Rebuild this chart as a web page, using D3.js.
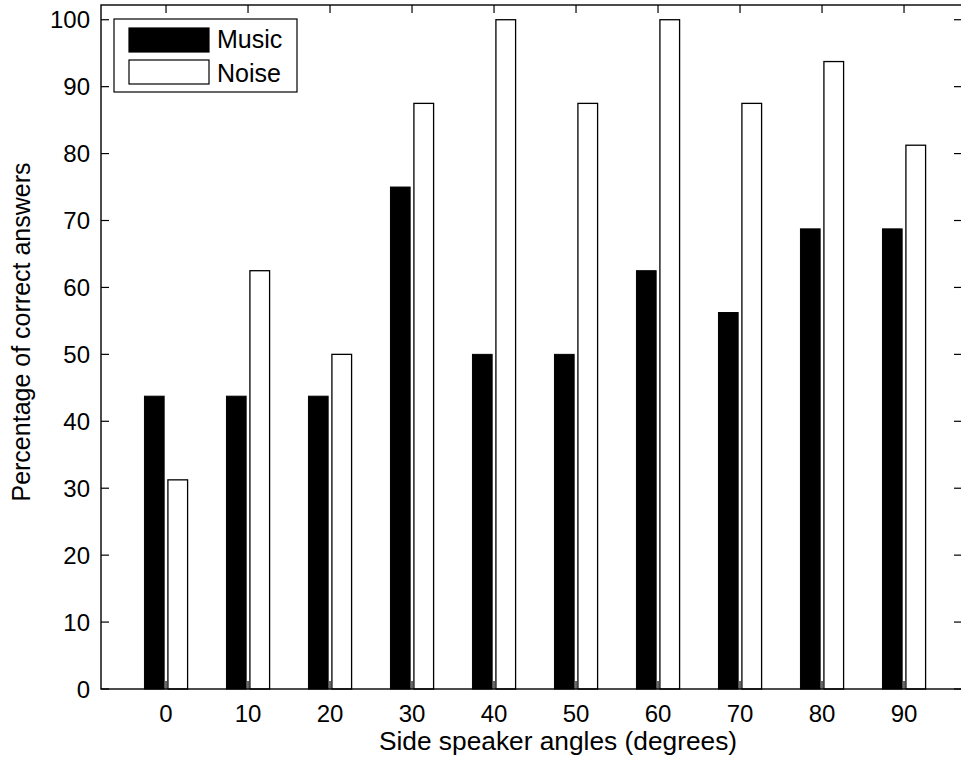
<!DOCTYPE html>
<html>
<head>
<meta charset="utf-8">
<script src="https://cdn.jsdelivr.net/npm/d3@7"></script>
<style>
  body { margin: 0; background: #fff; }
  text { font-family: "Liberation Sans", Arial, sans-serif; fill: #000; }
</style>
</head>
<body>
<div id="graph"></div>
<script>
const angles = [0, 10, 20, 30, 40, 50, 60, 70, 80, 90]
const music = [43.75, 43.75, 43.75, 75, 50, 50, 62.5, 56.25, 68.75, 68.75]
const noise = [31.25, 62.5, 50, 87.5, 100, 87.5, 100, 87.5, 93.75, 81.25]
const yTicks = [0, 10, 20, 30, 40, 50, 60, 70, 80, 90, 100]
const seriesNames = ["Music", "Noise"]

const width = 961
const height = 764
const plotLeft = 101, plotRight = 962, plotTop = 5, plotBottom = 689
const tickLen = 8

const x = d3.scaleLinear().domain([-7.93, 97.07]).range([plotLeft, plotRight])
const y = d3.scaleLinear().domain([0, 102.2]).range([plotBottom, plotTop])

const barW = x(2.4) - x(0)
const offset = x(1.43) - x(0)

const svg = d3.create("svg")
              .attr("width", width)
              .attr("height", height)
              .attr("viewBox", `0 0 ${width} ${height}`)

// bars
svg.append("g")
   .selectAll("rect")
   .data(angles.map((a, i) => ({a, v: music[i]})))
   .join("rect")
   .attr("x", d => x(d.a) - offset - barW / 2)
   .attr("y", d => y(d.v))
   .attr("width", barW)
   .attr("height", d => y(0) - y(d.v))
   .attr("fill", "#000")
   .attr("stroke", "#000")
   .attr("stroke-width", 1)

svg.append("g")
   .selectAll("rect")
   .data(angles.map((a, i) => ({a, v: noise[i]})))
   .join("rect")
   .attr("x", d => x(d.a) + offset - barW / 2)
   .attr("y", d => y(d.v))
   .attr("width", barW)
   .attr("height", d => y(0) - y(d.v))
   .attr("fill", "#fff")
   .attr("stroke", "#000")
   .attr("stroke-width", 1.3)

// frame
svg.append("rect")
   .attr("x", plotLeft).attr("y", plotTop)
   .attr("width", plotRight - plotLeft).attr("height", plotBottom - plotTop)
   .attr("fill", "none")
   .attr("stroke", "#000")
   .attr("stroke-width", 1.4)

// ticks (inward, mirrored)
const ticks = svg.append("g").attr("stroke", "#000").attr("stroke-width", 1.2)
angles.forEach(a => {
  ticks.append("line").attr("x1", x(a)).attr("x2", x(a)).attr("y1", plotBottom).attr("y2", plotBottom - tickLen)
  ticks.append("line").attr("x1", x(a)).attr("x2", x(a)).attr("y1", plotTop).attr("y2", plotTop + tickLen)
})
yTicks.forEach(t => {
  ticks.append("line").attr("x1", plotLeft).attr("x2", plotLeft + tickLen).attr("y1", y(t)).attr("y2", y(t))
  ticks.append("line").attr("x1", plotRight).attr("x2", plotRight - tickLen).attr("y1", y(t)).attr("y2", y(t))
})

// tick labels
svg.append("g")
   .selectAll("text")
   .data(yTicks)
   .join("text")
   .attr("x", plotLeft - 11)
   .attr("y", d => y(d))
   .attr("dy", "0.36em")
   .attr("text-anchor", "end")
   .attr("font-size", 24)
   .text(d => d)

svg.append("g")
   .selectAll("text")
   .data(angles)
   .join("text")
   .attr("x", d => x(d))
   .attr("y", 722)
   .attr("text-anchor", "middle")
   .attr("font-size", 24)
   .text(d => d)

// axis titles
svg.append("text")
   .attr("x", 558)
   .attr("y", 750)
   .attr("text-anchor", "middle")
   .attr("font-size", 26.3)
   .text("Side speaker angles (degrees)")

svg.append("text")
   .attr("transform", `translate(30, 332) rotate(-90)`)
   .attr("text-anchor", "middle")
   .attr("font-size", 25)
   .text("Percentage of correct answers")

// legend
const legend = svg.append("g")
legend.append("rect")
   .attr("x", 114).attr("y", 19)
   .attr("width", 183).attr("height", 73)
   .attr("fill", "#fff")
   .attr("stroke", "#000")
   .attr("stroke-width", 1.2)

seriesNames.forEach((name, i) => {
  legend.append("rect")
     .attr("x", 129).attr("y", 28 + i * 32)
     .attr("width", 80).attr("height", 24)
     .attr("fill", i ? "#fff" : "#000")
     .attr("stroke", "#000")
     .attr("stroke-width", 1.2)
  legend.append("text")
     .attr("x", 217).attr("y", 48 + i * 34)
     .attr("font-size", 25)
     .text(name)
})

d3.select("#graph").append(() => svg.node())
</script>
</body>
</html>
